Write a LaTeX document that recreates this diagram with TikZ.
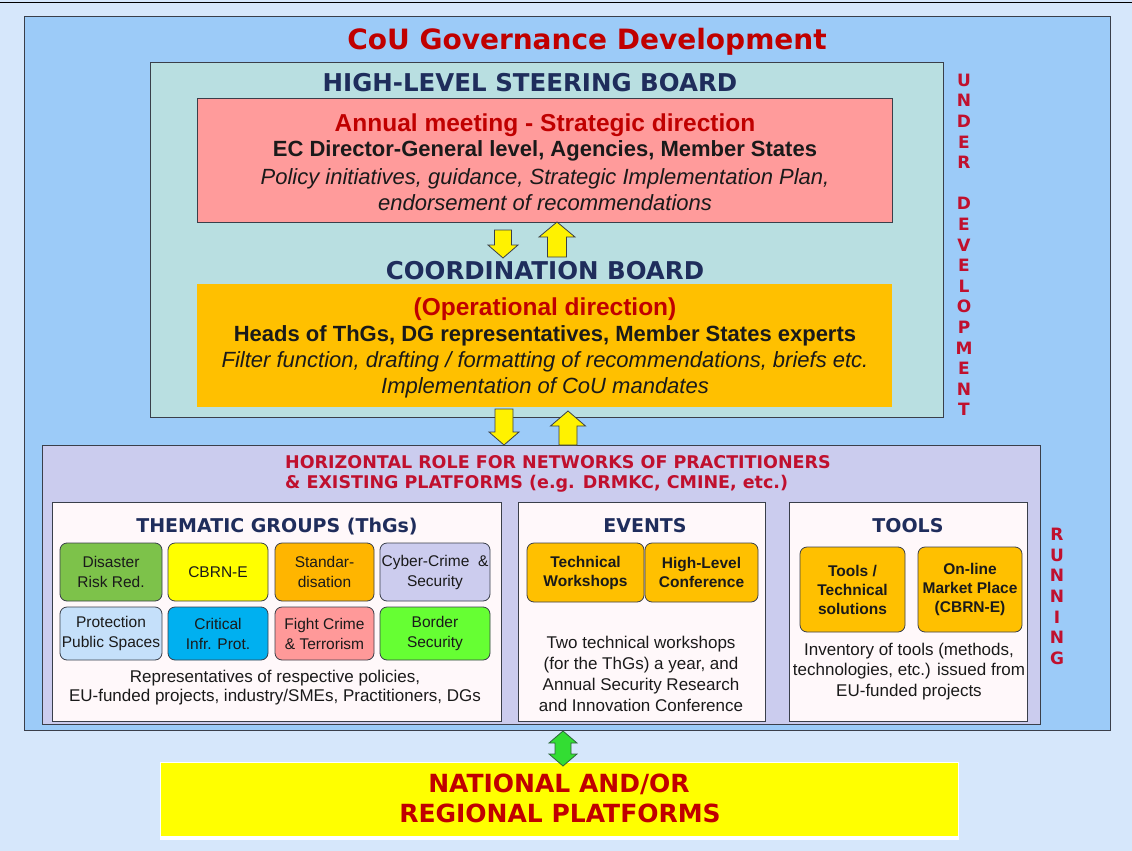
\documentclass[tikz,border=0pt]{standalone}
\usepackage{fontspec}
\setmainfont{Liberation Sans}
\newfontfamily\dv{DejaVu Sans}
\definecolor{bg}{HTML}{D6E7FB}
\definecolor{outerc}{HTML}{9CCBF8}
\definecolor{steerc}{HTML}{B9DFE1}
\definecolor{pinkc}{HTML}{FF9B9B}
\definecolor{orangec}{HTML}{FFC000}
\definecolor{horc}{HTML}{CBCCEE}
\definecolor{whitec}{HTML}{FFF8FA}
\definecolor{navy}{HTML}{1F2D5C}
\definecolor{dred}{HTML}{C00000}
\definecolor{cred}{HTML}{C0102E}
\definecolor{lineg}{HTML}{3A3F4A}
\definecolor{tgreen}{HTML}{7DC24A}
\definecolor{tyellow}{HTML}{FFFF00}
\definecolor{torange}{HTML}{FFB500}
\definecolor{tlav}{HTML}{CCCCEE}
\definecolor{tlblue}{HTML}{C5E0FA}
\definecolor{tcyan}{HTML}{00B0F0}
\definecolor{tpink}{HTML}{FF9999}
\definecolor{tlime}{HTML}{66FF33}
\definecolor{garrow}{HTML}{33DD33}
\definecolor{txtc}{HTML}{1A1A1A}
\newcommand\darrw[5]{\draw[yarr] (#1-#4,#2) -- (#1+#4,#2) -- (#1+#4,#3-13) -- (#1+#5,#3-13) -- (#1,#3) -- (#1-#5,#3-13) -- (#1-#4,#3-13) -- cycle;}
\newcommand\uarrw[5]{\draw[yarr] (#1-#4,#2) -- (#1+#4,#2) -- (#1+#4,#3+15) -- (#1+#5,#3+15) -- (#1,#3) -- (#1-#5,#3+15) -- (#1-#4,#3+15) -- cycle;}
\begin{document}
\begin{tikzpicture}[x=1pt,y=-1pt,
  frame/.style={draw=lineg, line width=0.9pt, inner sep=0, anchor=north west},
  hdtext/.style={inner sep=0, anchor=base, font=\dv\bfseries\fontsize{#1}{#1}\selectfont},
  artb/.style={inner sep=0, anchor=base, font=\bfseries\fontsize{#1}{#1}\selectfont},
  arti/.style={inner sep=0, anchor=base, text=txtc, font=\itshape\fontsize{#1}{#1}\selectfont},
  tg/.style={draw=lineg, line width=0.8pt, rounded corners=7pt, inner sep=0, align=center, text=txtc, font=\fontsize{15.5}{20}\selectfont},
  ev/.style={tg, fill=orangec, font=\bfseries\fontsize{15.5}{19}\selectfont},
  desc/.style={inner sep=0, align=center, text=txtc, font=\fontsize{17}{#1}\selectfont},
  yarr/.style={fill=yellow, draw=lineg, line width=0.8pt, line join=miter},
  garr/.style={fill=garrow, draw=lineg!80!green, line width=0.8pt, line join=miter},
  vert/.style={inner sep=0, align=center, text=cred, font=\dv\bfseries\fontsize{17}{20.6}\selectfont}
]
\fill[bg] (0,0) rectangle (1132,851);
\useasboundingbox (0,0) rectangle (1132,851);
\draw[black, line width=1pt] (0,3) -- (1132,3);

% outer frame
\node[frame, fill=outerc, minimum width=1086, minimum height=714] (outer) at (24,16) {};
\node[hdtext=28, text=dred] (title) at (587,50) {CoU Governance Development};

% steering board
\node[frame, fill=steerc, minimum width=793, minimum height=355] (steer) at (150,62) {};
\node[hdtext=24.5, text=navy] (hlsb) at (530,91) {HIGH-LEVEL STEERING BOARD};
\node[frame, fill=pinkc, minimum width=695, minimum height=124] (pink) at (197,98) {};
\node[artb=24.5, text=dred] (annual) at (545,131) {Annual meeting - Strategic direction};
\node[artb=22, text=txtc] (ec) at (545,156) {EC Director-General level, Agencies, Member States};
\node[arti=22] (policy) at (545,184) {Policy initiatives, guidance, Strategic Implementation Plan,};
\node[arti=22] (endorse) at (545,210) {endorsement of recommendations};

\node[hdtext=24.5, text=navy] (coord) at (545,279) {COORDINATION BOARD};
\node[inner sep=0, anchor=north west, fill=orangec, minimum width=695, minimum height=123] (orange) at (197,284) {};
\node[artb=24.5, text=dred] (oper) at (545,315) {(Operational direction)};
\node[artb=22, text=txtc] (heads) at (545,341) {Heads of ThGs, DG representatives, Member States experts};
\node[arti=22] (filter) at (545,367) {Filter function, drafting / formatting of recommendations, briefs etc.};
\node[arti=22] (impl) at (545,393) {Implementation of CoU mandates};

\node[vert] (under) at (964,244.8) {U\\N\\D\\E\\R\\[20.6pt]D\\E\\V\\E\\L\\O\\P\\M\\E\\N\\T};

% horizontal role
\node[frame, fill=horc, minimum width=998, minimum height=279] (hor) at (42,445) {};
\node[anchor=base west, inner sep=0, text=cred, font=\dv\bfseries\fontsize{17.5}{17.5}\selectfont] (hor1) at (285,468.5) {HORIZONTAL ROLE FOR NETWORKS OF PRACTITIONERS};
\node[anchor=base west, inner sep=0, text=cred, font=\dv\bfseries\fontsize{17.5}{17.5}\selectfont] (hor2) at (285,488.5) {\& EXISTING PLATFORMS (e.g. DRMKC, CMINE, etc.)};

% thematic groups
\node[frame, fill=whitec, minimum width=449, minimum height=219] (thg) at (52,502) {};
\node[hdtext=19, text=navy] (thgt) at (277,532) {THEMATIC GROUPS (ThGs)};
\node[tg, fill=tgreen, minimum width=102, minimum height=58] (drr) at (111,572) {Disaster\\Risk Red.};
\node[tg, fill=tyellow, minimum width=100, minimum height=58] (cbrn) at (218,572) {CBRN-E};
\node[tg, fill=torange, minimum width=99, minimum height=58] (std) at (324.5,572) {Standar-\\disation};
\node[tg, fill=tlav, minimum width=110, minimum height=58] (cyb) at (435,572) {Cyber-Crime \ \&\\Security};
\node[tg, fill=tlblue, minimum width=102, minimum height=53] (pps) at (111,633.5) {Protection\\Public Spaces};
\node[tg, fill=tcyan, minimum width=100, minimum height=53] (cip) at (218,633.5) {Critical\\Infr. Prot.};
\node[tg, fill=tpink, minimum width=99, minimum height=53] (fct) at (324.5,633.5) {Fight Crime\\\& Terrorism};
\node[tg, fill=tlime, minimum width=110, minimum height=53] (bs) at (435,633.5) {Border\\Security};
\node[desc=19.5] (thgd) at (275,687.5) {Representatives of respective policies,\\EU-funded projects, industry/SMEs, Practitioners, DGs};

% events
\node[frame, fill=whitec, minimum width=247, minimum height=219] (events) at (518,502) {};
\node[hdtext=19, text=navy] (evt) at (645,532) {EVENTS};
\node[ev, minimum width=117, minimum height=59] (tw) at (585.5,572.5) {Technical\\Workshops};
\node[ev, minimum width=113, minimum height=59] (hlc) at (701.5,572.5) {High-Level\\Conference};
\node[desc=21] (evd) at (641,673.5) {Two technical workshops\\(for the ThGs) a year, and\\Annual Security Research\\and Innovation Conference};

% tools
\node[frame, fill=whitec, minimum width=238, minimum height=219] (tools) at (789,502) {};
\node[hdtext=19, text=navy] (tlt) at (908,532) {TOOLS};
\node[ev, minimum width=105, minimum height=85] (tts) at (852.5,589.5) {Tools /\\Technical\\solutions};
\node[ev, minimum width=104, minimum height=85] (omp) at (970,589.5) {On-line\\Market Place\\(CBRN-E)};
\node[desc=20.5] (tld) at (909,671.5) {Inventory of tools (methods,\\technologies, etc.) issued from\\EU-funded projects};

\node[vert] (running) at (1057,596.5) {R\\U\\N\\N\\I\\N\\G};

% arrows
\darrw{503}{230}{258}{8.5}{15}
\uarrw{557}{257}{222}{9.5}{18}
\darrw{504}{409}{445}{9}{15}
\uarrw{568}{445}{411}{9}{17.5}

% national
\node[inner sep=0, anchor=north west, fill=tyellow, draw=white, line width=1.2pt, minimum width=798, minimum height=74] (nat) at (160,762) {};
\draw[white, line width=3pt] ([yshift=-1.5pt]nat.south west) -- ([yshift=-1.5pt]nat.south east);
\node[hdtext=25, text=dred] (nat1) at (559,792) {NATIONAL AND/OR};
\node[hdtext=25, text=dred] (nat2) at (560,822) {REGIONAL PLATFORMS};
\draw[garr] (563,731) -- (577,743) -- (571,743) -- (571,754) -- (577,754) -- (563,766) -- (549,754) -- (555,754) -- (555,743) -- (549,743) -- cycle;
\end{tikzpicture}
\end{document}
